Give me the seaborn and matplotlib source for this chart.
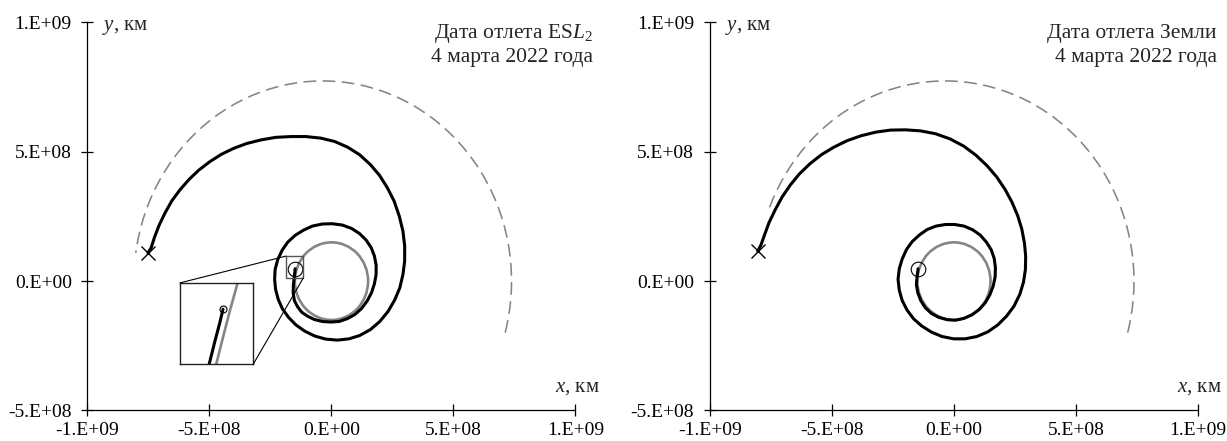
import numpy as np
import matplotlib
matplotlib.use("Agg")
import matplotlib.pyplot as plt
import seaborn as sns
from matplotlib.patches import Arc, Circle, Rectangle, ConnectionPatch

# Heliocentric trajectories in units of 1e8 km (Sun at origin)
# Departure from ESL2
esl2_x = [-1.49, -1.52, -1.56, -1.57, -1.52, -1.39, -1.22, -0.99, -0.71, -0.37,
          -0.03, 0.31, 0.65, 0.96, 1.23, 1.46, 1.64, 1.76, 1.83, 1.83,
          1.76, 1.63, 1.42, 1.15, 0.82, 0.44, 0.03, -0.37, -0.78, -1.15,
          -1.49, -1.79, -2.02, -2.20, -2.31, -2.33, -2.29, -2.18, -2.01, -1.76,
          -1.46, -1.10, -0.69, -0.24, 0.24, 0.72, 1.16, 1.60, 1.98, 2.32,
          2.59, 2.80, 2.93, 3.00, 3.00, 2.93, 2.78, 2.57, 2.29, 1.97,
          1.59, 1.15, 0.66, 0.13, -0.44, -1.05, -1.67, -2.28, -2.89, -3.48,
          -4.02, -4.52, -5.00, -5.44, -5.84, -6.21, -6.54, -6.82, -7.07, -7.26,
          -7.39, -7.52]
esl2_y = [0.48, 0.20, -0.13, -0.45, -0.75, -0.99, -1.20, -1.35, -1.48, -1.56,
          -1.58, -1.56, -1.45, -1.29, -1.06, -0.77, -0.45, -0.10, 0.26, 0.62,
          0.97, 1.29, 1.59, 1.84, 2.04, 2.17, 2.22, 2.21, 2.13, 1.97,
          1.77, 1.51, 1.20, 0.84, 0.45, 0.07, -0.32, -0.71, -1.07, -1.40,
          -1.69, -1.93, -2.12, -2.24, -2.28, -2.23, -2.10, -1.87, -1.56, -1.17,
          -0.73, -0.26, 0.26, 0.78, 1.36, 1.93, 2.51, 3.09, 3.61, 4.09,
          4.51, 4.89, 5.18, 5.40, 5.53, 5.59, 5.59, 5.56, 5.46, 5.32,
          5.13, 4.90, 4.61, 4.29, 3.93, 3.53, 3.11, 2.64, 2.15, 1.68,
          1.29, 1.10]

# Departure from Earth
earth_x = [-1.47, -1.51, -1.54, -1.48, -1.36, -1.17, -0.92, -0.62, -0.28, 0.06,
           0.40, 0.74, 1.04, 1.28, 1.47, 1.61, 1.69, 1.70, 1.65, 1.53,
           1.33, 1.08, 0.76, 0.41, 0.03, -0.35, -0.73, -1.09, -1.41, -1.71,
           -1.94, -2.12, -2.24, -2.29, -2.24, -2.12, -1.92, -1.65, -1.31, -0.92,
           -0.49, -0.01, 0.46, 0.94, 1.39, 1.80, 2.16, 2.46, 2.70, 2.85,
           2.93, 2.94, 2.89, 2.78, 2.61, 2.38, 2.10, 1.76, 1.35, 0.90,
           0.40, -0.16, -0.76, -1.37, -1.99, -2.60, -3.21, -3.81, -4.38, -4.92,
           -5.43, -5.90, -6.34, -6.72, -7.05, -7.33, -7.58, -7.77, -7.90, -8.04]
earth_y = [0.48, 0.19, -0.13, -0.45, -0.75, -1.03, -1.25, -1.40, -1.49, -1.51,
           -1.44, -1.30, -1.09, -0.84, -0.53, -0.19, 0.17, 0.52, 0.88, 1.21,
           1.51, 1.78, 1.99, 2.13, 2.19, 2.19, 2.13, 2.00, 1.79, 1.53,
           1.23, 0.86, 0.48, 0.07, -0.35, -0.75, -1.12, -1.46, -1.74, -1.97,
           -2.14, -2.23, -2.23, -2.14, -1.96, -1.69, -1.35, -0.97, -0.51, -0.04,
           0.45, 0.97, 1.48, 2.02, 2.54, 3.05, 3.54, 4.02, 4.47, 4.87,
           5.22, 5.50, 5.70, 5.81, 5.85, 5.84, 5.76, 5.62, 5.43, 5.18,
           4.89, 4.54, 4.14, 3.70, 3.24, 2.75, 2.26, 1.77, 1.42, 1.16]

# Close-up of the ESL2 departure (same units)
zoom_box_x = [-1.857, -1.151]
zoom_box_y = [0.13, 0.97]
zoom_traj_x = [-1.589, -1.577, -1.519, -1.476, -1.444]
zoom_traj_y = [0.08, 0.13, 0.379, 0.552, 0.697]
zoom_orbit_x = [-1.52, -1.509, -1.444, -1.377, -1.303, -1.29]
zoom_orbit_y = [0.08, 0.13, 0.407, 0.684, 0.97, 1.02]

# Planet orbits
earth_orbit_radius = 1.5
jupiter_center = (-0.36, 0.0)
jupiter_radius = 7.74
jupiter_arc_esl2 = (-14.9, 171.9)
jupiter_arc_earth = (-14.9, 160.0)

SCALE = 1e8

xticks = [-1e9, -5e8, 0, 5e8, 1e9]
xtick_labels = ["-1.E+09", "-5.E+08", "0.E+00", "5.E+08", "1.E+09"]
yticks = [-5e8, 0, 5e8, 1e9]
ytick_labels = ["-5.E+08", "0.E+00", "5.E+08", "1.E+09"]

titles = [("Дата отлета ES$\\mathit{L}_2$", "4 марта 2022 года"),
          ("Дата отлета Земли", "4 марта 2022 года")]

sns.set_theme(style="white")
plt.rcParams["font.family"] = ["Liberation Serif", "DejaVu Serif"]
plt.rcParams["mathtext.fontset"] = "custom"
plt.rcParams["mathtext.rm"] = "Liberation Serif"
plt.rcParams["mathtext.it"] = "Liberation Serif:italic"
plt.rcParams["axes.unicode_minus"] = False

GRAY = "#858585"

fig = plt.figure(figsize=(12.27, 4.41), dpi=100)
ax_left = fig.add_axes([0.0713, 0.0692, 0.3977, 0.8798])
ax_right = fig.add_axes([0.5786, 0.0692, 0.3977, 0.8798])


def draw_panel(ax, tx, ty, arc, title, title_x, xlab_x):
    ax.set_facecolor("white")
    ax.add_patch(Arc((jupiter_center[0] * SCALE, jupiter_center[1] * SCALE),
                     2 * jupiter_radius * SCALE, 2 * jupiter_radius * SCALE,
                     theta1=arc[0], theta2=arc[1], color=GRAY, lw=1.15,
                     linestyle=(0, (8, 4)), zorder=1))
    ax.add_patch(Circle((0, 0), earth_orbit_radius * SCALE, fill=False,
                        ec=GRAY, lw=1.9, zorder=2))
    sns.lineplot(x=np.array(tx) * SCALE, y=np.array(ty) * SCALE, sort=False,
                 estimator=None, color="black", lw=2.2, ax=ax, zorder=3)
    ax.plot(tx[0] * SCALE, ty[0] * SCALE, marker="o", ms=10.5, mfc="none",
            mec="black", mew=0.8, zorder=4)
    ax.plot(tx[-1] * SCALE, ty[-1] * SCALE, marker="x", ms=9.5, mec="black",
            mew=1.0, zorder=4)

    ax.set_xlim(-1e9, 1e9)
    ax.set_ylim(-5e8, 1e9)
    ax.set_xticks(xticks)
    ax.set_xticklabels(xtick_labels)
    ax.set_yticks(yticks)
    ax.set_yticklabels(ytick_labels)
    ax.tick_params(axis="both", bottom=True, left=True, direction="inout",
                   length=8.6, width=0.9, colors="black", labelsize=14)
    ax.tick_params(axis="x", pad=4.0)
    ax.tick_params(axis="y", pad=7.0)
    for side in ("top", "right"):
        ax.spines[side].set_visible(False)
    for side in ("left", "bottom"):
        ax.spines[side].set_color("black")
        ax.spines[side].set_linewidth(0.9)
    ax.grid(False)

    ax.text(0.030, 0.981, "$y$, км", transform=ax.transAxes, fontsize=15,
            ha="left", va="baseline")
    ax.text(xlab_x, 0.048, "$x$, км", transform=ax.transAxes, fontsize=15,
            ha="right", va="baseline")
    ax.text(title_x, 0.960, title[0], transform=ax.transAxes, fontsize=15.5,
            ha="right", va="baseline")
    ax.text(title_x, 0.899, title[1], transform=ax.transAxes, fontsize=15.5,
            ha="right", va="baseline")


draw_panel(ax_left, esl2_x, esl2_y, jupiter_arc_esl2, titles[0], 1.036, 1.050)
draw_panel(ax_right, earth_x, earth_y, jupiter_arc_earth, titles[1], 1.039, 1.049)

# Close-up of the departure region on the left panel
bx0, bx1 = zoom_box_x[0] * SCALE, zoom_box_x[1] * SCALE
by0, by1 = zoom_box_y[0] * SCALE, zoom_box_y[1] * SCALE
ax_left.add_patch(Rectangle((bx0, by0), bx1 - bx0, by1 - by0, fill=False,
                            ec="#555555", lw=1.0, zorder=5))

ins = ax_left.inset_axes([0.190, 0.120, 0.150, 0.209])
ins.set_facecolor("white")
sns.lineplot(x=np.array(zoom_orbit_x) * SCALE, y=np.array(zoom_orbit_y) * SCALE,
             sort=False, estimator=None, color=GRAY, lw=1.9, ax=ins)
sns.lineplot(x=np.array(zoom_traj_x) * SCALE, y=np.array(zoom_traj_y) * SCALE,
             sort=False, estimator=None, color="black", lw=2.2, ax=ins)
ins.plot(zoom_traj_x[-1] * SCALE, zoom_traj_y[-1] * SCALE, marker="o", ms=5,
         mfc="none", mec="black", mew=0.8)
ins.set_xlim(bx0, bx1)
ins.set_ylim(by0, by1)
ins.set_xticks([])
ins.set_yticks([])
ins.set_xlabel("")
ins.set_ylabel("")
for sp in ins.spines.values():
    sp.set_visible(True)
    sp.set_color("#222222")
    sp.set_linewidth(1.0)

for xy_a, xy_b in (((bx0, by1), (0, 1)), ((bx1, by0), (1, 0))):
    con = ConnectionPatch(xyA=xy_a, coordsA=ax_left.transData,
                          xyB=xy_b, coordsB=ins.transAxes,
                          color="black", lw=0.8)
    fig.add_artist(con)

fig.savefig("out.png", dpi=100, facecolor="white")
